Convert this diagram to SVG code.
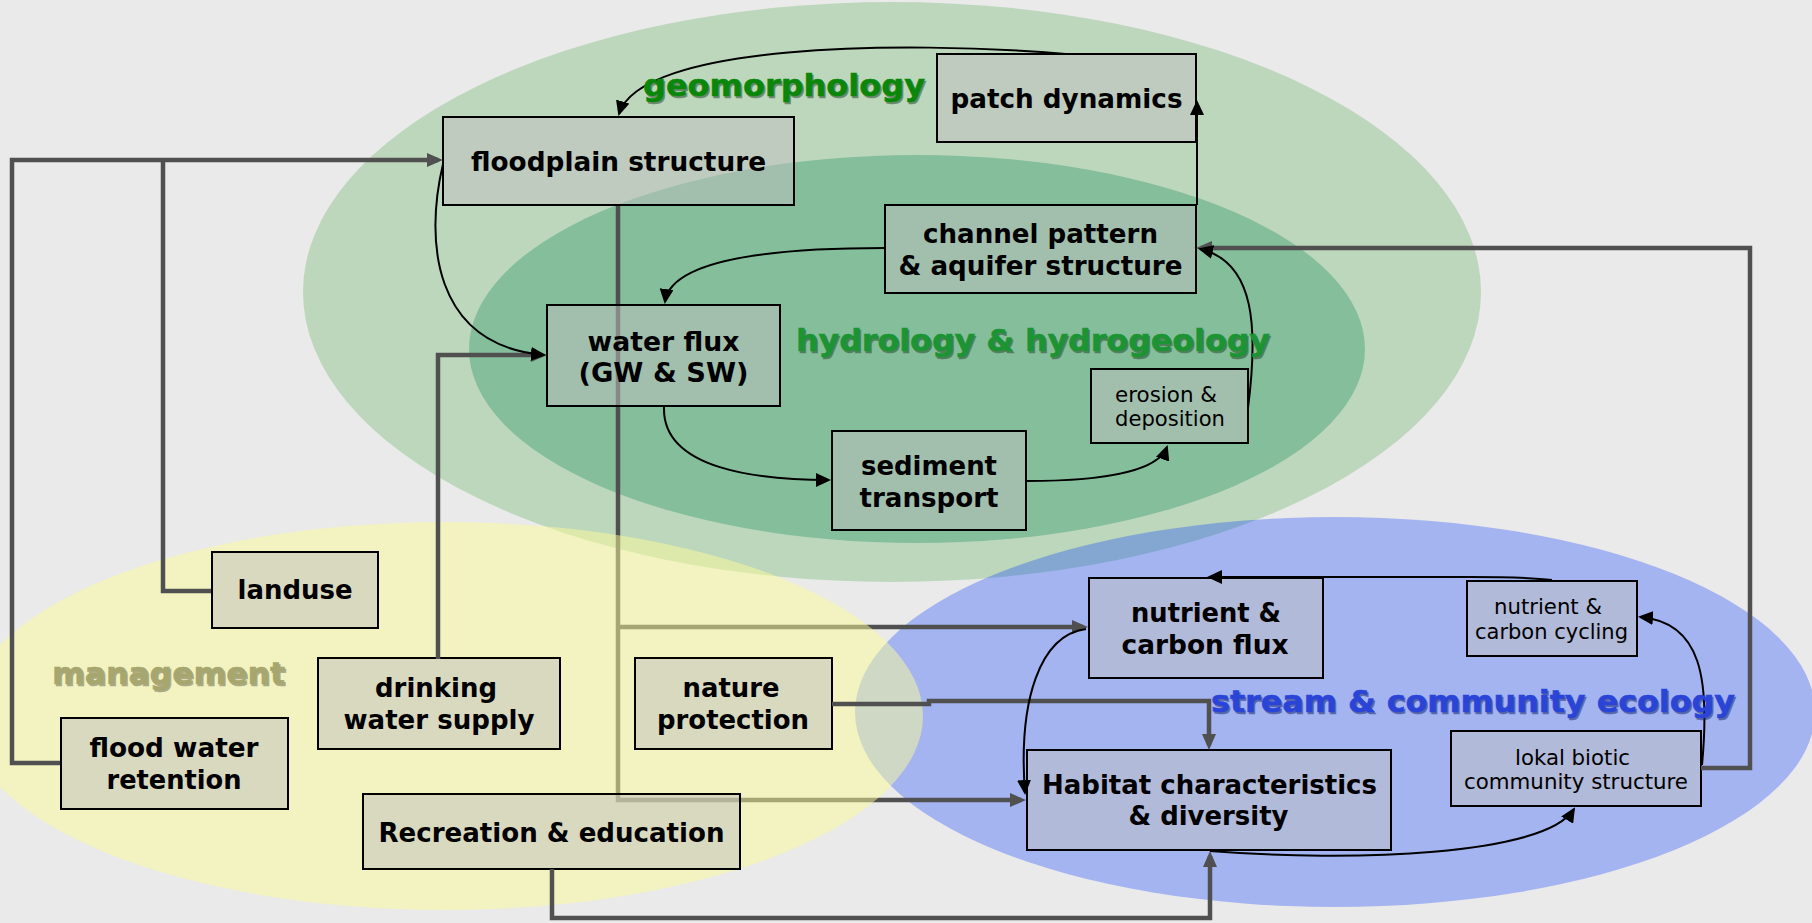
<svg xmlns="http://www.w3.org/2000/svg" width="1812" height="923" viewBox="0 0 1812 923">
<defs>
<style>
.box{fill:#c0c0c0;fill-opacity:0.5;stroke:#000;stroke-width:2}
.t{font-family:"DejaVu Sans","Verdana",sans-serif;font-weight:bold;font-size:26px;fill:#000;text-anchor:middle}
.ts{font-family:"DejaVu Sans","Verdana",sans-serif;font-weight:normal;font-size:21px;fill:#000;text-anchor:middle}
.lbl{font-family:"DejaVu Sans","Verdana",sans-serif;font-weight:bold;font-size:30px;stroke-width:0.5}
.thick{fill:none;stroke:#505050;stroke-width:4.5;stroke-linejoin:miter}
.thin{fill:none;stroke:#000;stroke-width:2}
</style>
<marker id="ag" viewBox="0 0 16 14" refX="11" refY="7" markerWidth="16" markerHeight="14" markerUnits="userSpaceOnUse" orient="auto"><path d="M0,0 L16,7 L0,14 z" fill="#505050"/></marker>
<marker id="ab" viewBox="0 0 15 14" refX="13" refY="7" markerWidth="15" markerHeight="14" markerUnits="userSpaceOnUse" orient="auto"><path d="M0,0 L15,7 L0,14 z" fill="#000"/></marker>
</defs>
<rect x="0" y="0" width="1812" height="923" fill="#eaeaea"/>
<g id="areas">
<ellipse cx="892" cy="292" rx="589" ry="290" fill="#bdd7bd"/>
<ellipse cx="917" cy="349" rx="448" ry="194" fill="#84be9b"/>
<ellipse cx="1335" cy="712" rx="480" ry="195" fill="#0039ff" fill-opacity="0.3"/>
</g>
<g id="connectors-under">
<path class="thick" d="M618,205 V800 H1021" marker-end="url(#ag)"/>
<path class="thick" d="M618,627 H1083" marker-end="url(#ag)"/>
</g>
<g id="area-management">
<ellipse cx="445" cy="716" rx="478" ry="194" fill="#fcfc98" fill-opacity="0.5"/>
</g>
<g id="floodplain-structure">
<rect class="box" x="443" y="117" width="351" height="88"/>
<text class="t" x="618.5" y="171" textLength="295" lengthAdjust="spacingAndGlyphs">floodplain structure</text>
</g>
<g id="patch-dynamics">
<rect class="box" x="937" y="54" width="259" height="88"/>
<text class="t" x="1066.5" y="108" textLength="232" lengthAdjust="spacingAndGlyphs">patch dynamics</text>
</g>
<g id="channel-pattern">
<rect class="box" x="885" y="205" width="311" height="88"/>
<text class="t" x="1040.5" y="243" textLength="235" lengthAdjust="spacingAndGlyphs">channel pattern</text>
<text class="t" x="1040.5" y="275" textLength="284" lengthAdjust="spacingAndGlyphs">&amp; aquifer structure</text>
</g>
<g id="water-flux">
<rect class="box" x="547" y="305" width="233" height="101"/>
<text class="t" x="663.5" y="351" textLength="152" lengthAdjust="spacingAndGlyphs">water flux</text>
<text class="t" x="663.5" y="382" textLength="170" lengthAdjust="spacingAndGlyphs">(GW &amp; SW)</text>
</g>
<g id="erosion-deposition">
<rect class="box" x="1091" y="369" width="157" height="74"/>
<text class="ts" x="1115" y="402" textLength="102" lengthAdjust="spacingAndGlyphs" style="text-anchor:start">erosion &amp;</text>
<text class="ts" x="1115" y="426" textLength="110" lengthAdjust="spacingAndGlyphs" style="text-anchor:start">deposition</text>
</g>
<g id="sediment-transport">
<rect class="box" x="832" y="431" width="194" height="99"/>
<text class="t" x="929" y="475" textLength="136" lengthAdjust="spacingAndGlyphs">sediment</text>
<text class="t" x="929" y="507" textLength="139" lengthAdjust="spacingAndGlyphs">transport</text>
</g>
<g id="landuse">
<rect class="box" x="212" y="552" width="166" height="76"/>
<text class="t" x="295" y="599" textLength="115" lengthAdjust="spacingAndGlyphs">landuse</text>
</g>
<g id="drinking-water-supply">
<rect class="box" x="318" y="658" width="242" height="91"/>
<text class="t" x="436" y="697" textLength="122" lengthAdjust="spacingAndGlyphs">drinking</text>
<text class="t" x="439" y="729" textLength="191" lengthAdjust="spacingAndGlyphs">water supply</text>
</g>
<g id="nature-protection">
<rect class="box" x="635" y="658" width="197" height="91"/>
<text class="t" x="731" y="697" textLength="97" lengthAdjust="spacingAndGlyphs">nature</text>
<text class="t" x="733" y="729" textLength="152" lengthAdjust="spacingAndGlyphs">protection</text>
</g>
<g id="flood-water-retention">
<rect class="box" x="61" y="718" width="227" height="91"/>
<text class="t" x="174" y="757" textLength="169" lengthAdjust="spacingAndGlyphs">flood water</text>
<text class="t" x="174" y="789" textLength="135" lengthAdjust="spacingAndGlyphs">retention</text>
</g>
<g id="recreation-education">
<rect class="box" x="363" y="794" width="377" height="75"/>
<text class="t" x="551.5" y="842" textLength="346" lengthAdjust="spacingAndGlyphs">Recreation &amp; education</text>
</g>
<g id="nutrient-carbon-flux">
<rect class="box" x="1089" y="578" width="234" height="100"/>
<text class="t" x="1206" y="622" textLength="150" lengthAdjust="spacingAndGlyphs">nutrient &amp;</text>
<text class="t" x="1205" y="654" textLength="167" lengthAdjust="spacingAndGlyphs">carbon flux</text>
</g>
<g id="nutrient-carbon-cycling">
<rect class="box" x="1467" y="581" width="170" height="75"/>
<text class="ts" x="1548" y="614" textLength="108" lengthAdjust="spacingAndGlyphs">nutrient &amp;</text>
<text class="ts" x="1551.5" y="639" textLength="153" lengthAdjust="spacingAndGlyphs">carbon cycling</text>
</g>
<g id="habitat-characteristics">
<rect class="box" x="1027" y="750" width="364" height="100"/>
<text class="t" x="1209.5" y="794" textLength="335" lengthAdjust="spacingAndGlyphs">Habitat characteristics</text>
<text class="t" x="1208.5" y="825" textLength="160" lengthAdjust="spacingAndGlyphs">&amp; diversity</text>
</g>
<g id="lokal-biotic-community">
<rect class="box" x="1451" y="731" width="250" height="75"/>
<text class="ts" x="1572.5" y="765" textLength="115" lengthAdjust="spacingAndGlyphs">lokal biotic</text>
<text class="ts" x="1576" y="789" textLength="224" lengthAdjust="spacingAndGlyphs">community structure</text>
</g>
<g id="connectors">
<path class="thick" d="M60,763 H12 V160 H438" marker-end="url(#ag)"/>
<path class="thick" d="M211,591 H163 V160"/>
<path class="thick" d="M438,659 V355 H542" marker-end="url(#ag)"/>
<path class="thick" d="M832,704 H929 V701 H1209 V745" marker-end="url(#ag)"/>
<path class="thick" d="M552,869 V918 H1210 V856" marker-end="url(#ag)"/>
<path class="thick" d="M1701,768 H1750 V248 H1201" marker-end="url(#ag)"/>
<path class="thin" d="M1066,54 C900,40 640,44 619,114" marker-end="url(#ab)"/>
<path class="thin" d="M1197,205 V102" marker-end="url(#ab)"/>
<path class="thin" d="M884,248 C760,248 670,262 665,302" marker-end="url(#ab)"/>
<path class="thin" d="M443,164 C425,240 432,345 544,355" marker-end="url(#ab)"/>
<path class="thin" d="M664,407 C662,470 760,480 829,480" marker-end="url(#ab)"/>
<path class="thin" d="M1027,481 C1100,481 1158,472 1167,447" marker-end="url(#ab)"/>
<path class="thin" d="M1248,408 C1258,330 1256,262 1200,249" marker-end="url(#ab)"/>
<path class="thin" d="M1552,580 C1520,576 1480,577 1440,577 H1209" marker-end="url(#ab)"/>
<path class="thin" d="M1702,765 C1710,680 1702,622 1640,617" marker-end="url(#ab)"/>
<path class="thin" d="M1210,851 C1350,862 1545,856 1574,809" marker-end="url(#ab)"/>
<path class="thin" d="M1086,629 C1040,635 1018,700 1025,793" marker-end="url(#ab)"/>
</g>
<g id="labels">
<text class="lbl" x="644.5" y="97.5" textLength="282" lengthAdjust="spacingAndGlyphs" fill="#2a4a2a" stroke="#2a4a2a" opacity="0.55">geomorphology</text>
<text class="lbl" x="643" y="96" textLength="282" lengthAdjust="spacingAndGlyphs" fill="#0a870a" stroke="#0a870a">geomorphology</text>
<text class="lbl" x="797.5" y="352.5" textLength="474" lengthAdjust="spacingAndGlyphs" fill="#2a4a2a" stroke="#2a4a2a" opacity="0.55">hydrology &amp; hydrogeology</text>
<text class="lbl" x="796" y="351" textLength="474" lengthAdjust="spacingAndGlyphs" fill="#1c9434" stroke="#1c9434">hydrology &amp; hydrogeology</text>
<text class="lbl" x="53.5" y="685.5" textLength="233" lengthAdjust="spacingAndGlyphs" fill="#6d6d50" stroke="#6d6d50" opacity="0.55">management</text>
<text class="lbl" x="52" y="684" textLength="233" lengthAdjust="spacingAndGlyphs" fill="#a6a66e" stroke="#a6a66e">management</text>
<text class="lbl" x="1212.5" y="713.5" textLength="524" lengthAdjust="spacingAndGlyphs" fill="#1a2a70" stroke="#1a2a70" opacity="0.55">stream &amp; community ecology</text>
<text class="lbl" x="1211" y="712" textLength="524" lengthAdjust="spacingAndGlyphs" fill="#2a44d8" stroke="#2a44d8">stream &amp; community ecology</text>
</g>
</svg>
